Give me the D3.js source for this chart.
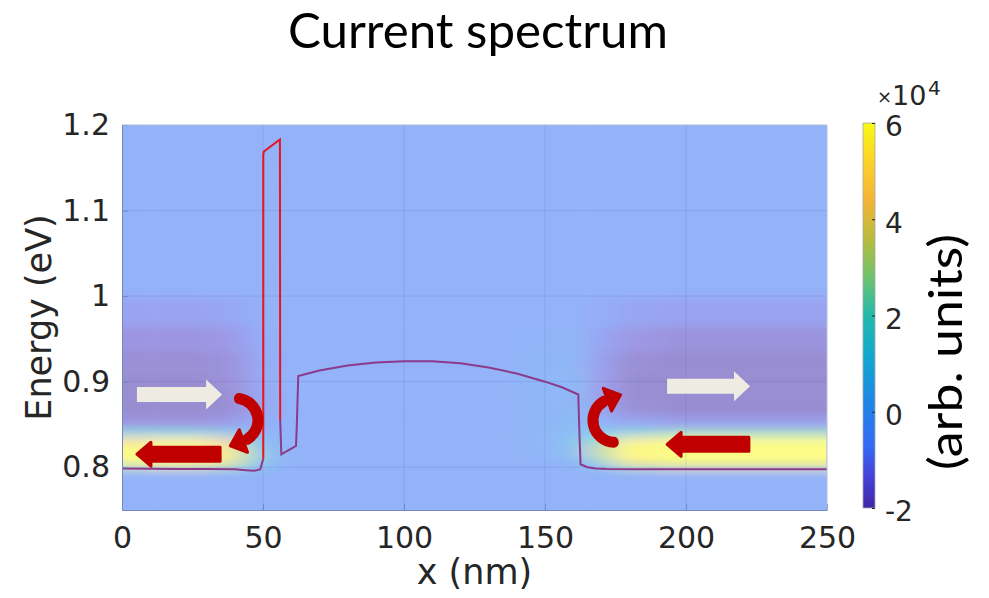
<!DOCTYPE html>
<html>
<head>
<meta charset="utf-8">
<script src="https://cdn.jsdelivr.net/npm/d3@7"></script>
<style>
  body { margin: 0; background: #fff; }
</style>
</head>
<body>
<div id="chart"></div>
<script>
// cell edges of the current map
var xEdges = [0, 10, 20, 30, 40, 47, 55, 62, 100, 140, 155, 165, 175, 190, 210, 230, 250];
var eEdges = [0.75, 0.797, 0.805, 0.815, 0.825, 0.835, 0.845, 0.86, 0.875, 0.89, 0.91, 0.935, 0.965, 1.0, 1.2];

// current (x10^4 arb. units), one row per energy band, bottom to top
var current = [
  [-0.6, -0.6, -0.6, -0.6, -0.6, -0.6, -0.6, -0.6, -0.6, -0.6, -0.6, -0.6, -0.6, -0.6, -0.6, -0.6],
  [ 3.0,  3.5,  3.5,  3.0,  1.5,  0.0, -0.6, -0.6, -0.6, -0.6, -0.6,  0.5,  3.0,  3.5,  3.5,  3.5],
  [ 6.0,  6.0,  6.0,  5.5,  3.0,  0.5, -0.6, -0.6, -0.6, -0.6,  0.0,  2.5,  5.5,  6.0,  6.0,  6.0],
  [ 6.0,  6.0,  6.0,  5.5,  3.0,  0.5, -0.6, -0.6, -0.6, -0.4,  0.4,  3.5,  6.0,  6.0,  6.0,  6.0],
  [ 5.0,  5.5,  5.5,  4.5,  2.0,  0.0, -0.6, -0.6, -0.6, -0.4,  0.5,  2.5,  5.5,  6.0,  6.0,  6.0],
  [ 1.5,  1.5,  1.5,  1.0,  0.5, -0.5, -0.6, -0.6, -0.6, -0.4,  0.2,  1.0,  2.0,  2.5,  2.5,  2.5],
  [-1.6, -1.6, -1.6, -1.4, -1.1, -0.7, -0.6, -0.6, -0.6, -0.4,  0.0, -0.5, -1.0, -1.2, -1.2, -1.2],
  [-2.0, -2.0, -2.0, -2.0, -1.6, -0.9, -0.6, -0.6, -0.6, -0.4, -0.1, -1.1, -1.8, -2.0, -2.0, -2.0],
  [-2.0, -2.0, -2.0, -2.0, -1.6, -0.9, -0.6, -0.6, -0.6, -0.4, -0.2, -1.3, -2.0, -2.0, -2.0, -2.0],
  [-2.0, -2.0, -2.0, -1.9, -1.5, -0.8, -0.6, -0.6, -0.6, -0.4, -0.2, -1.3, -2.0, -2.0, -2.0, -2.0],
  [-1.9, -1.9, -1.9, -1.8, -1.4, -0.8, -0.6, -0.6, -0.6, -0.4, -0.3, -1.2, -1.9, -2.0, -2.0, -2.0],
  [-1.6, -1.6, -1.6, -1.5, -1.2, -0.7, -0.6, -0.6, -0.6, -0.5, -0.4, -1.0, -1.5, -1.7, -1.7, -1.7],
  [-1.1, -1.1, -1.1, -1.0, -0.9, -0.6, -0.6, -0.6, -0.6, -0.6, -0.6, -0.8, -1.0, -1.1, -1.1, -1.1],
  [-0.6, -0.6, -0.6, -0.6, -0.6, -0.6, -0.6, -0.6, -0.6, -0.6, -0.6, -0.6, -0.6, -0.6, -0.6, -0.6]
];

var xTicks = [0, 50, 100, 150, 200, 250];
var eTicks = [0.8, 0.9, 1, 1.1, 1.2];
var cbTicks = [-2, 0, 2, 4, 6];

// band edge profile, split where the line colour changes
var leadX = [0, 10, 20, 30, 40, 44, 47, 49, 50.1];
var leadE = [0.7985, 0.7982, 0.798, 0.7978, 0.7975, 0.7965, 0.7958, 0.7975, 0.81];
var barrierX = [50.1, 50.1, 50.3, 56.0, 56.1];
var barrierE = [0.81, 1.165, 1.169, 1.183, 0.855];
var wellX = [56.1, 56.5, 61.7, 62.0, 62.5, 70, 80, 90, 100, 110, 120, 130, 140, 150, 156, 161.8, 162.3, 162.6, 165, 168, 172, 180, 200, 250];
var wellE = [0.855, 0.815, 0.825, 0.85, 0.9065, 0.913, 0.919, 0.9225, 0.924, 0.924, 0.9215, 0.9165, 0.9095, 0.900, 0.8935, 0.885, 0.83, 0.8035, 0.800, 0.7985, 0.7978, 0.7975, 0.7975, 0.7975];

// arrows drawn on top (x in nm, energy in eV)
var straightArrows = [
  {from: 5.3, to: 35.5, e: 0.8851, kind: "light"},
  {from: 34.8, to: 5.3, e: 0.8152, kind: "dark"},
  {from: 193.3, to: 222.7, e: 0.8945, kind: "light"},
  {from: 222.3, to: 193.3, e: 0.8268, kind: "dark"}
];
var bentArrows = [
  {x: 40.4, e: 0.8548, start: -5, end: 160},
  {x: 174.8, e: 0.8548, start: 170, end: 340}
];

function init() {
  var W = 989, H = 598;
  var left = 122, right = 827, top = 125, bottom = 510;

  var x = d3.scaleLinear().domain([0, 250]).range([left, right]);
  var y = d3.scaleLinear().domain([0.75, 1.2]).range([bottom, top]);

  var stops = [0, 0.08, 0.16, 0.28, 0.4, 0.5, 0.6, 0.7, 0.8, 0.9, 1];
  var stopColors = ["#3e26a8", "#4640d8", "#3369f5", "#1e87e6", "#0faacd", "#23b9aa",
                    "#6ec36e", "#b9bc3c", "#f5b437", "#fad228", "#f9fa14"];
  var parula = d3.scaleLinear().domain(stops).range(stopColors).interpolate(d3.interpolateRgb);
  var color = function(v) { return parula(Math.max(0, Math.min(1, (v + 2) / 8))); };

  var svg = d3.select("#chart").append("svg")
    .attr("width", W).attr("height", H);

  var defs = svg.append("defs");
  defs.append("clipPath").attr("id", "plotClip")
    .append("rect").attr("x", left).attr("y", top)
    .attr("width", right - left).attr("height", bottom - top);
  defs.append("filter").attr("id", "soft")
    .attr("x", "-10%").attr("y", "-10%").attr("width", "120%").attr("height", "120%")
    .append("feGaussianBlur").attr("stdDeviation", "12 5");

  // heat map, washed out like the original overlay
  var cells = [];
  current.forEach(function(row, r) {
    row.forEach(function(v, c) {
      cells.push({x0: xEdges[c], x1: xEdges[c + 1], e0: eEdges[r], e1: eEdges[r + 1], v: v});
    });
  });
  var pad = 40;
  svg.append("g").attr("clip-path", "url(#plotClip)")
    .append("g").attr("filter", "url(#soft)").attr("opacity", 0.52)
    .selectAll("rect").data(cells).enter().append("rect")
      .attr("x", d => x(d.x0) - (d.x0 === 0 ? pad : 0))
      .attr("width", d => x(d.x1) - x(d.x0) + (d.x0 === 0 ? pad : 0) + (d.x1 === 250 ? pad : 0) + 0.5)
      .attr("y", d => y(d.e1) - (d.e1 === 1.2 ? pad : 0))
      .attr("height", d => y(d.e0) - y(d.e1) + (d.e1 === 1.2 ? pad : 0) + (d.e0 === 0.75 ? pad : 0) + 0.5)
      .attr("fill", d => color(d.v));

  // faint grid
  var grid = svg.append("g").attr("stroke", "#2a4a9a").attr("stroke-opacity", 0.12).attr("stroke-width", 1);
  xTicks.slice(1, -1).forEach(function(t) {
    grid.append("line").attr("x1", x(t)).attr("x2", x(t)).attr("y1", top).attr("y2", bottom);
  });
  eTicks.slice(0, -1).forEach(function(t) {
    grid.append("line").attr("x1", left).attr("x2", right).attr("y1", y(t)).attr("y2", y(t));
  });

  // band profile
  var line = d3.line().x(d => x(d[0])).y(d => y(d[1]));
  svg.append("path").datum(d3.zip(leadX, leadE)).attr("d", line)
    .attr("fill", "none").attr("stroke", "#8c3a8c").attr("stroke-width", 2);
  svg.append("path").datum(d3.zip(wellX, wellE)).attr("d", line)
    .attr("fill", "none").attr("stroke", "#8c3a8c").attr("stroke-width", 2);
  svg.append("path").datum(d3.zip(barrierX, barrierE)).attr("d", line)
    .attr("fill", "none").attr("stroke", "#e8141e").attr("stroke-width", 2);

  // axes
  var axisColor = "#7189c0";
  var tickFont = "'DejaVu Sans', sans-serif";

  var gx = svg.append("g").attr("transform", "translate(0," + bottom + ")")
    .call(d3.axisBottom(x).tickValues(xTicks).tickSize(-6).tickSizeOuter(0).tickPadding(17).tickFormat(d => d));
  var gy = svg.append("g").attr("transform", "translate(" + left + ",0)")
    .call(d3.axisLeft(y).tickValues(eTicks).tickSize(-6).tickSizeOuter(0).tickPadding(12).tickFormat(d => d));
  [gx, gy].forEach(function(g) {
    g.select(".domain").attr("stroke", axisColor);
    g.selectAll(".tick line").attr("stroke", axisColor);
    g.selectAll(".tick text").attr("fill", "#262626")
      .style("font-family", tickFont).style("font-size", "30px");
  });
  gx.selectAll(".tick text").attr("dy", "0.71em");

  svg.append("line").attr("x1", left).attr("x2", right).attr("y1", top).attr("y2", top)
    .attr("stroke", "#aebde0").attr("stroke-width", 1);
  svg.append("line").attr("x1", right).attr("x2", right).attr("y1", top).attr("y2", bottom)
    .attr("stroke", "#aebde0").attr("stroke-width", 1);

  svg.append("text")
    .attr("x", (left + right) / 2).attr("y", 584)
    .attr("text-anchor", "middle")
    .style("font-family", tickFont).style("font-size", "35px").attr("fill", "#262626")
    .text("x (nm)");

  svg.append("text")
    .attr("transform", "translate(51," + ((top + bottom) / 2) + ") rotate(-90)")
    .attr("text-anchor", "middle")
    .style("font-family", tickFont).style("font-size", "35px").attr("fill", "#262626")
    .text("Energy (eV)");

  svg.append("text")
    .attr("x", 478).attr("y", 48)
    .attr("text-anchor", "middle")
    .attr("textLength", 380).attr("lengthAdjust", "spacingAndGlyphs")
    .style("font-family", "Lato, sans-serif").style("font-size", "48px").attr("fill", "#000")
    .text("Current spectrum");

  // arrows
  straightArrows.forEach(function(a) {
    var tip = x(a.to), tail = x(a.from), cy = y(a.e);
    var s = tip > tail ? 1 : -1;
    var light = a.kind === "light";
    var shaft = light ? 15 : 14, headW = light ? 30 : 24, headL = light ? 16 : 14;
    var hb = tip - s * headL;
    var pts = [[tail, cy - shaft / 2], [hb, cy - shaft / 2], [hb, cy - headW / 2], [tip, cy],
               [hb, cy + headW / 2], [hb, cy + shaft / 2], [tail, cy + shaft / 2]];
    svg.append("path")
      .attr("d", "M" + pts.map(p => p.join(",")).join("L") + "Z")
      .attr("fill", light ? "#eeece2" : "#c00000")
      .attr("stroke", light ? "none" : "#c00000")
      .attr("stroke-width", 3).attr("stroke-linejoin", "round");
  });

  var rMid = 22;
  var arc = d3.arc().innerRadius(rMid - 5.5).outerRadius(rMid + 5.5).cornerRadius(5);
  bentArrows.forEach(function(a) {
    var cx = x(a.x), cy = y(a.e);
    var a0 = a.start * Math.PI / 180, a1 = a.end * Math.PI / 180;
    svg.append("path")
      .attr("transform", "translate(" + cx + "," + cy + ")")
      .attr("d", arc({startAngle: a0, endAngle: a1 + 0.05}))
      .attr("fill", "#c00000");
    var px = cx + rMid * Math.sin(a1), py = cy - rMid * Math.cos(a1);
    var tx = Math.cos(a1), ty = Math.sin(a1);
    var nx = -ty, ny = tx;
    var hw = 12, hl = 14;
    var tri = [[px + nx * hw, py + ny * hw], [px + tx * hl, py + ty * hl], [px - nx * hw, py - ny * hw]];
    svg.append("path")
      .attr("d", "M" + tri.map(p => p.join(",")).join("L") + "Z")
      .attr("fill", "#c00000").attr("stroke", "#c00000")
      .attr("stroke-width", 3).attr("stroke-linejoin", "round");
  });

  // colour bar
  var cbX = 863, cbW = 12;
  var cb = d3.scaleLinear().domain([-2, 6]).range([508, 123]);
  var grad = defs.append("linearGradient").attr("id", "cbGrad")
    .attr("x1", 0).attr("x2", 0).attr("y1", 1).attr("y2", 0);
  stops.forEach(function(t, i) {
    grad.append("stop").attr("offset", t).attr("stop-color", stopColors[i]);
  });
  svg.append("rect")
    .attr("x", cbX).attr("y", cb(6)).attr("width", cbW).attr("height", cb(-2) - cb(6))
    .attr("fill", "url(#cbGrad)").attr("stroke", "#a8a8a8").attr("stroke-width", 0.8);

  var gc = svg.append("g").attr("transform", "translate(" + (cbX + cbW) + ",0)")
    .call(d3.axisRight(cb).tickValues(cbTicks).tickSize(-3).tickSizeOuter(0).tickPadding(10).tickFormat(d => d));
  gc.select(".domain").remove();
  gc.selectAll(".tick line").attr("stroke", "#262626");
  gc.selectAll(".tick text").attr("fill", "#262626").attr("y", 4)
    .style("font-family", tickFont).style("font-size", "28px");

  // exponent label above the colour bar
  svg.append("text").attr("x", 877).attr("y", 103)
    .style("font-family", tickFont).style("font-size", "18px").attr("fill", "#262626")
    .text("\u00d7");
  svg.append("text").attr("x", 892).attr("y", 105)
    .style("font-family", tickFont).style("font-size", "27px").attr("fill", "#262626")
    .text("10");
  svg.append("text").attr("x", 928).attr("y", 95)
    .style("font-family", tickFont).style("font-size", "20px").attr("fill", "#262626")
    .text("4");

  svg.append("text")
    .attr("transform", "translate(962,352) rotate(-90)")
    .attr("text-anchor", "middle")
    .attr("textLength", 236).attr("lengthAdjust", "spacingAndGlyphs")
    .style("font-family", "Lato, sans-serif").style("font-size", "47px").attr("fill", "#000")
    .text("(arb. units)");
}

window.onload = init;
</script>
</body>
</html>
